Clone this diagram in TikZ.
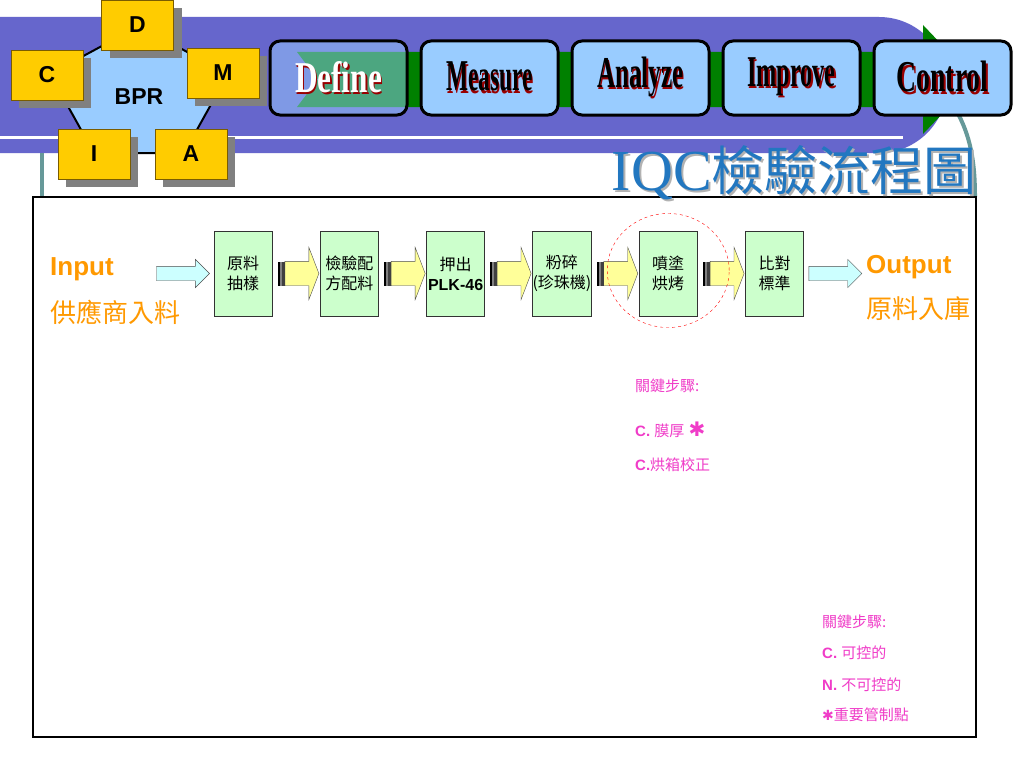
\documentclass[tikz,border=0pt]{standalone}
\usepackage{fontspec}
\setmainfont{Liberation Sans}
\newfontfamily\cjk{Noto Sans CJK TC}
\newfontfamily\serifx{Liberation Serif}
\newfontfamily\dejavu{DejaVu Sans}
\usetikzlibrary{arrows.meta,positioning,shapes.geometric,shapes.arrows,shadows}

\definecolor{bandpurple}{HTML}{6666CC}
\definecolor{phaseblue}{HTML}{99CCFF}
\definecolor{phasegreen}{HTML}{008000}
\definecolor{darkred}{HTML}{990000}
\definecolor{gold}{HTML}{FFCC00}
\definecolor{goldedge}{HTML}{7A5C00}
\definecolor{shadowgray}{HTML}{808080}
\definecolor{tealgray}{HTML}{669999}
\definecolor{titleblue}{HTML}{2277C0}
\definecolor{boxgreen}{HTML}{CCFFCC}
\definecolor{arrowyellow}{HTML}{FFFF99}
\definecolor{incyan}{HTML}{CCFFFF}
\definecolor{iorange}{HTML}{FF9900}
\definecolor{keypink}{HTML}{F03CC8}

% word art with a drop shadow
\newcommand{\wordart}[3]{\scalebox{#2}[1]{\rlap{\hspace{2.5pt}\raisebox{-2.5pt}{\color{darkred}#3}}{\color{#1}#3}}}
\newcommand{\titletext}{{\fontsize{58}{58}\selectfont\serifx IQC}{\fontsize{53}{53}\selectfont\cjk 檢驗流程圖}}

\begin{document}
\begin{tikzpicture}[x=1pt,y=-1pt,node distance=106.3pt,on grid]
  \tikzstyle{gold}=[rectangle,draw=goldedge,fill=gold,minimum width=72pt,minimum height=50pt,inner sep=0pt,font=\fontsize{23}{23}\selectfont\bfseries,copy shadow={shadow xshift=8pt,shadow yshift=-8pt,fill=shadowgray,draw=none}]
  \tikzstyle{phase}=[rectangle,rounded corners=10pt,line width=3pt,draw=black,fill=phaseblue,minimum width=137pt,minimum height=74pt,inner sep=0pt,font=\fontsize{44}{44}\selectfont\serifx\bfseries]
  \tikzstyle{stepbox}=[rectangle,draw=black!80,fill=boxgreen,minimum width=58pt,minimum height=85pt,inner sep=0pt,align=center,font=\fontsize{16}{20}\selectfont\cjk]
  \tikzstyle{yarrow}=[single arrow,draw=black!70,fill=arrowyellow,inner xsep=0pt,inner ysep=12pt,minimum height=34pt,single arrow head extend=14pt,single arrow tip angle=138,anchor=tip]
  \tikzstyle{inarrow}=[single arrow,draw=black!70,fill=incyan,inner xsep=0pt,inner ysep=7pt,minimum height=53pt,single arrow head extend=7pt,single arrow tip angle=90,anchor=tip]
  \tikzstyle{iotext}=[anchor=base west,inner sep=0pt,text=iorange,font=\fontsize{26}{26}\selectfont]
  \tikzstyle{keytext}=[anchor=base west,inner sep=0pt,text=keypink,font=\fontsize{15}{15}\selectfont]

  \useasboundingbox (0,0) rectangle (1024,768);
  \fill[white] (0,0) rectangle (1024,768);

  % header band
  \fill[bandpurple,rounded corners=68pt] (-150,17) rectangle (947,153);
  \draw[white,line width=3pt] (0,137) -- (903,137);
  \fill[phasegreen] (297,52) -- (923,52) -- (923,25) -- (975,79.5) -- (923,134) -- (923,107) -- (297,107) -- (318,79.5) -- cycle;
  \draw[tealgray,line width=4pt] (42,153) -- (42,197);
  \draw[tealgray,line width=4pt] (956,110) .. controls (970,135) and (975,160) .. (975,197);

  \node[phase,fill opacity=0.5,text opacity=1] (define) at (338.5,78) {\wordart{white}{0.71}{Define}};
  \node[phase] (measure) [right=151pt of define] {\wordart{black}{0.53}{Measure}};
  \node[phase] (analyze) [right=151pt of measure] {\wordart{black}{0.57}{Analyze}};
  \node[phase] (improve) [right=151pt of analyze] {\wordart{black}{0.55}{Improve}};
  \node[phase] (control) [right=151pt of improve] {\wordart{black}{0.63}{Control}};

  % BPR pentagon
  \filldraw[fill=phaseblue,draw=black,line width=2pt] (94,153) -- (184,153) -- (228,74) -- (139,26) -- (50,74) -- cycle;
  \node[font=\fontsize{23}{23}\selectfont\bfseries] (bpr) at (139,97) {BPR};
  \node[gold] (d) at (137.5,25) {D};
  \node[gold] (m) at (223,73) {M};
  \node[gold] (c) at (47,75) {C};
  \node[gold] (i) at (94,154) {I};
  \node[gold] (a) at (191,154) {A};

  % frame and title
  \draw[line width=2.5pt] (33,197) rectangle (976,737);
  \node[anchor=base east,inner sep=0pt,text=black!30] at (979,192) {\titletext};
  \node[anchor=base east,inner sep=0pt,text=titleblue] (title) at (977,190) {\titletext};

  % flow
  \node[stepbox] (b1) at (243,273.5) {原料\\抽樣};
  \node[stepbox] (b2) [right=of b1] {檢驗配\\方配料};
  \node[stepbox] (b3) [right=of b2] {押出\\{\rmfamily\bfseries PLK-46}};
  \node[stepbox] (b4) [right=of b3] {粉碎\\(珍珠機)};
  \node[stepbox] (b5) [right=of b4] {噴塗\\烘烤};
  \node[stepbox] (b6) [right=of b5] {比對\\標準};

  \foreach \a/\b in {b1/b2,b2/b3,b3/b4,b4/b5,b5/b6}{
    \node[yarrow] (\a\b) at ([xshift=-1pt]\b.west) {};
    \fill[black] ([xshift=-7pt,yshift=12pt]\a\b.tail) rectangle ([xshift=-4.5pt,yshift=-12pt]\a\b.tail);
    \fill[gray] ([xshift=-4.5pt,yshift=12pt]\a\b.tail) rectangle ([xshift=-2.5pt,yshift=-12pt]\a\b.tail);
    \fill[black!75] ([xshift=-2.5pt,yshift=12pt]\a\b.tail) rectangle ([xshift=0pt,yshift=-12pt]\a\b.tail);
  }

  \node[inarrow] (inp) at ([xshift=-4pt]b1.west) {};
  \node[inarrow,anchor=tail] (outp) at ([xshift=5pt]b6.east) {};

  \node[iotext] (input) at (50,275) {\bfseries Input};
  \node[iotext] (supply) at (50,322) {\cjk 供應商入料};
  \node[iotext] (output) at (866,273) {\bfseries Output};
  \node[iotext] (store) at (866,318) {\cjk 原料入庫};

  \draw[red,dashed] ([yshift=3pt]b5.center) ellipse [x radius=61pt,y radius=57pt];

  % key steps
  \node[keytext] (key1) at (635,391) {\cjk 關鍵步驟:};
  \node[keytext] (key2) at (635,436) {{\bfseries C.} {\cjk 膜厚} {\fontsize{20}{20}\selectfont\dejavu ✱}};
  \node[keytext] (key3) at (635,470) {{\bfseries C.}{\cjk 烘箱校正}};

  % legend
  \node[keytext] (leg1) at (822,627) {\cjk 關鍵步驟:};
  \node[keytext] (leg2) at (822,658) {{\bfseries C.} {\cjk 可控的}};
  \node[keytext] (leg3) at (822,690) {{\bfseries N.} {\cjk 不可控的}};
  \node[keytext] (leg4) at (822,720) {{\fontsize{14}{14}\selectfont\dejavu ✱}{\cjk 重要管制點}};
\end{tikzpicture}
\end{document}
